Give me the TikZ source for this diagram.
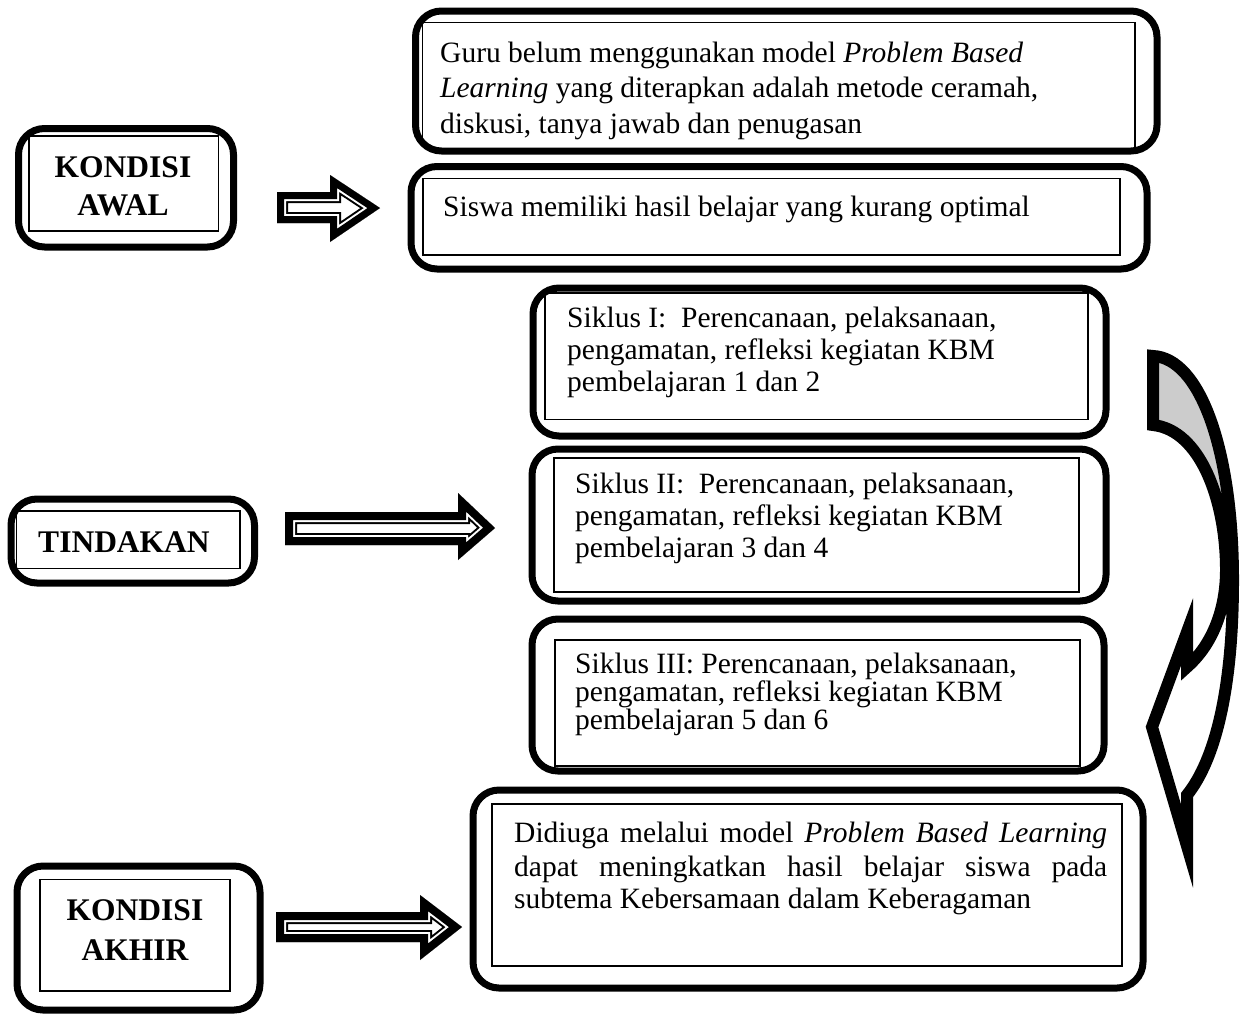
\documentclass[tikz,border=0pt]{standalone}
\usepackage{fontspec}
\setmainfont{Liberation Serif}
\newcommand\twobox[8]{%
  \begin{scope}
    \clip[rounded corners=26pt] (#1,#2) rectangle (#3,#4);
    \draw[innerbox] (#5,#6) rectangle (#7,#8);
  \end{scope}
  \draw[outerbox] (#1,#2) rectangle (#3,#4);
}
% block arrow with thick-thin outline
\newcommand\dblarrow[9]{%
  \begin{scope}
    \clip (#1,#2) -- (#4,#2) -- (#4,#5) -- (#7,#8) -- (#4,#6) -- (#4,#3) -- (#1,#3) -- cycle;
    \fill[white] (#1,#2) -- (#4,#2) -- (#4,#5) -- (#7,#8) -- (#4,#6) -- (#4,#3) -- (#1,#3) -- cycle;
    \draw[line width=#9+8pt, line join=miter] (#1,#2) -- (#4,#2) -- (#4,#5) -- (#7,#8) -- (#4,#6) -- (#4,#3) -- (#1,#3) -- cycle;
    \draw[white, line width=#9+4pt, line join=miter] (#1,#2) -- (#4,#2) -- (#4,#5) -- (#7,#8) -- (#4,#6) -- (#4,#3) -- (#1,#3) -- cycle;
    \draw[line width=#9, line join=miter] (#1,#2) -- (#4,#2) -- (#4,#5) -- (#7,#8) -- (#4,#6) -- (#4,#3) -- (#1,#3) -- cycle;
  \end{scope}
}
\begin{document}
\begin{tikzpicture}[x=1pt,y=-1pt,
  outerbox/.style={draw=black, line width=7pt, rounded corners=26pt},
  innerbox/.style={draw=black, line width=1.5pt},
  txt/.style={anchor=base west, inner sep=0pt, font=\fontsize{29.5}{35}\selectfont},
  bold/.style={anchor=base, inner sep=0pt, font=\fontsize{31.5}{36}\selectfont\bfseries},
  curvestroke/.style={draw=black, line width=12pt, line join=miter, miter limit=12}
]
\useasboundingbox[fill=white] (0,0) rectangle (1246,1015);

% left boxes
\twobox{18.5}{128.5}{233.5}{247}{29}{136}{218.5}{231}
\twobox{11}{499}{254.5}{583}{16.5}{511}{240}{568.5}
\twobox{17}{866}{260}{1010}{40}{879.5}{230}{991}

% right boxes
\twobox{415.5}{11}{1157}{151}{422.5}{22.5}{1135}{150}
\twobox{411}{166.5}{1147}{269}{423}{178.5}{1120}{255}
\twobox{533}{288}{1106}{436}{545}{293}{1088}{419.5}
\twobox{532}{449}{1106}{601}{554}{458}{1079}{592}
\twobox{532}{619}{1104}{771}{555}{640}{1080}{766}
\twobox{473}{790}{1143}{988}{492}{804}{1122}{966}

% block arrows
\dblarrow{277}{192}{223}{330}{175}{242}{380}{208}{14pt}
\dblarrow{285}{512}{545}{458}{493}{560}{495}{528}{16pt}
\dblarrow{276}{912}{942}{420}{895}{960}{462}{927}{16pt}

% curved arrow
\fill[gray!40] (1153,356) .. controls (1200,358) and (1233,450) .. (1233,580) -- (1226,570) .. controls (1226,500) and (1200,430) .. (1153,425) -- cycle;
\draw[curvestroke] (1153,425) -- (1153,356) .. controls (1200,358) and (1233,450) .. (1233,580) .. controls (1233,690) and (1215,760) .. (1187,795) -- (1187,846) -- (1152,727) -- (1187,632) -- (1187,667) .. controls (1212,645) and (1226,610) .. (1226,570) .. controls (1226,500) and (1200,430) .. (1153,425) -- cycle;

% texts
\node[bold] (ka1) at (123,177) {KONDISI};
\node[bold] (ka2) at (123,215) {AWAL};
\node[bold] (td) at (124,552) {TINDAKAN};
\node[bold] (kk1) at (135,920) {KONDISI};
\node[bold] (kk2) at (135,960) {AKHIR};

\node[txt] (g1) at (440,62) {Guru belum menggunakan model \textit{Problem Based}};
\node[txt] (g2) at (440,97) {\textit{Learning} yang diterapkan adalah metode ceramah,};
\node[txt] (g3) at (440,133) {diskusi, tanya jawab dan penugasan};
\node[txt] (sw) at (443,216) {Siswa memiliki hasil belajar yang kurang optimal};

\node[txt] (a1) at (567,327) {Siklus I:\ \ Perencanaan, pelaksanaan,};
\node[txt] (a2) at (567,359) {pengamatan, refleksi kegiatan KBM};
\node[txt] (a3) at (567,391) {pembelajaran 1 dan 2};

\node[txt] (b1) at (575,493) {Siklus II:\ \ Perencanaan, pelaksanaan,};
\node[txt] (b2) at (575,525) {pengamatan, refleksi kegiatan KBM};
\node[txt] (b3) at (575,557) {pembelajaran 3 dan 4};

\node[txt] (c1) at (575,673) {Siklus III: Perencanaan, pelaksanaan,};
\node[txt] (c2) at (575,701) {pengamatan, refleksi kegiatan KBM};
\node[txt] (c3) at (575,729) {pembelajaran 5 dan 6};

\node[txt] (d1) at (514,842) {\makebox[593pt][s]{Didiuga melalui model \textit{Problem Based Learning}}};
\node[txt] (d2) at (514,876) {\makebox[593pt][s]{dapat meningkatkan hasil belajar siswa pada}};
\node[txt] (d3) at (514,908) {subtema Kebersamaan dalam Keberagaman};
\end{tikzpicture}
\end{document}
